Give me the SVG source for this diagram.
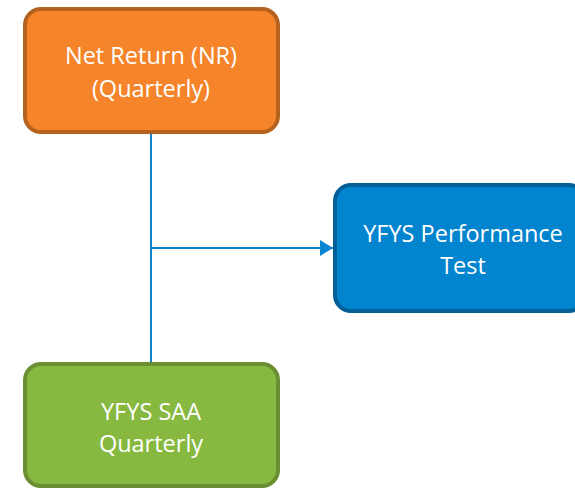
<svg xmlns="http://www.w3.org/2000/svg" width="575" height="489" viewBox="0 0 575 489">
<style>
.box{stroke-width:4}
.t{font-family:"Open Sans","Liberation Sans",sans-serif;font-size:23.5px;fill:#ffffff;text-anchor:middle}
.c{stroke:#0a84cc;stroke-width:2;fill:none}
</style>
<defs>
<marker id="ah" markerWidth="16" markerHeight="18" refX="13" refY="8" orient="auto" markerUnits="userSpaceOnUse"><path d="M0,0 L13,8 L0,16 Z" fill="#0a84cc"/></marker>
</defs>
<rect width="575" height="489" fill="#ffffff"/>
<g id="connectors">
<path class="c" d="M151,134 V362"/>
<path class="c" d="M151,248 H333" marker-end="url(#ah)"/>
</g>
<g id="nr">
<rect class="box" x="25" y="9" width="253" height="123" rx="16" fill="#f5842a" stroke="#b5621f"/>
<text class="t" x="151" y="64">Net Return (NR)</text>
<text class="t" x="151" y="97">(Quarterly)</text>
</g>
<g id="yfys-test">
<rect class="box" x="335" y="185" width="250" height="126" rx="16" fill="#0384cf" stroke="#025f98"/>
<text class="t" x="463" y="242">YFYS Performance</text>
<text class="t" x="463" y="274">Test</text>
</g>
<g id="saa">
<rect class="box" x="25" y="364" width="253" height="122" rx="16" fill="#87b940" stroke="#6a8e32"/>
<text class="t" x="151" y="420">YFYS SAA</text>
<text class="t" x="151" y="452">Quarterly</text>
</g>
</svg>
